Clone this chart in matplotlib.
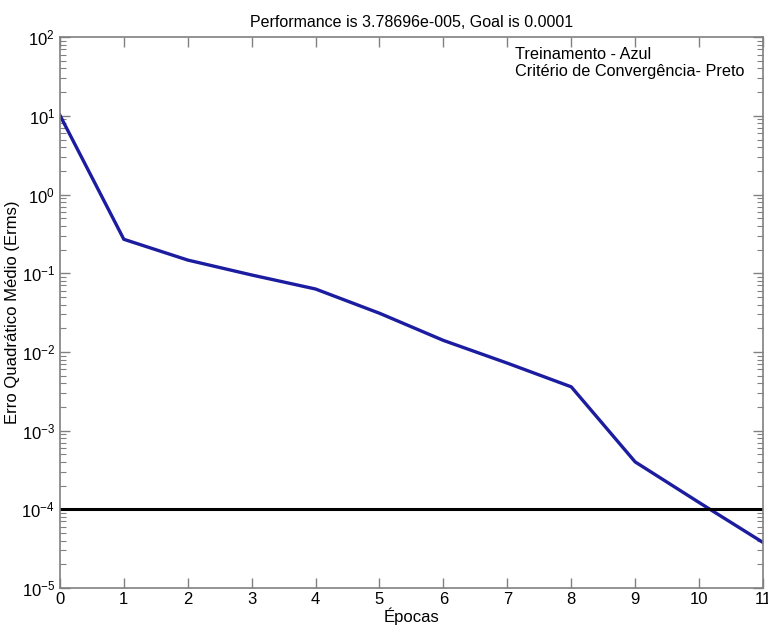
import matplotlib
matplotlib.use('Agg')
import matplotlib.pyplot as plt
from matplotlib.ticker import LogLocator, NullFormatter, LogFormatterSciNotation
import numpy as np

plt.rcParams['font.family'] = ['Liberation Sans', 'DejaVu Sans']
plt.rcParams['mathtext.fontset'] = 'custom'
plt.rcParams['mathtext.rm'] = 'Liberation Sans'
plt.rcParams['mathtext.it'] = 'Liberation Sans'

# dados
epocas = [0, 1, 2, 3, 4, 5, 6, 7, 8, 9, 10, 11]
erro = [10.2, 0.27, 0.147, 0.095, 0.063, 0.031, 0.014, 0.0072, 0.0036, 0.0004, 1.22e-4, 3.787e-5]
goal = 1e-4

fig = plt.figure(figsize=(7.68, 6.3), dpi=100)
ax = fig.add_axes([0.078, 0.0667, 0.9155, 0.8743])

ax.plot(epocas, erro, color='#1c1ca0', lw=2.4)
ax.axhline(goal, color='black', lw=2.2)

ax.set_yscale('log')
ax.set_xlim(0, 11)
ax.set_ylim(1e-5, 1e2)
ax.set_xticks(range(0, 12))
ax.yaxis.set_major_locator(LogLocator(base=10, numticks=10))
ax.yaxis.set_major_formatter(LogFormatterSciNotation())
ax.yaxis.set_minor_locator(LogLocator(base=10, subs=np.arange(2, 10), numticks=20))
ax.yaxis.set_minor_formatter(NullFormatter())

ax.tick_params(which='both', direction='in', top=True, right=True, colors='#808080',
               labelcolor='black', labelsize=12)
ax.tick_params(which='major', length=7, width=1)
ax.tick_params(which='minor', length=4, width=0.8)
ax.tick_params(axis='x', pad=3)
for s in ax.spines.values():
    s.set_color('#808080')
    s.set_linewidth(1.2)

ax.set_title('Performance is 3.78696e-005, Goal is 0.0001', fontsize=11.5, pad=7)
ax.set_xlabel('Épocas', fontsize=12, labelpad=0)
ax.set_ylabel('Erro Quadrático Médio (Erms)', fontsize=12, labelpad=1)

ax.text(0.647, 0.953, 'Treinamento - Azul\nCritério de Convergência- Preto',
        transform=ax.transAxes, ha='left', va='center', fontsize=11.7, linespacing=1.2)

plt.savefig('out.png', dpi=100)
